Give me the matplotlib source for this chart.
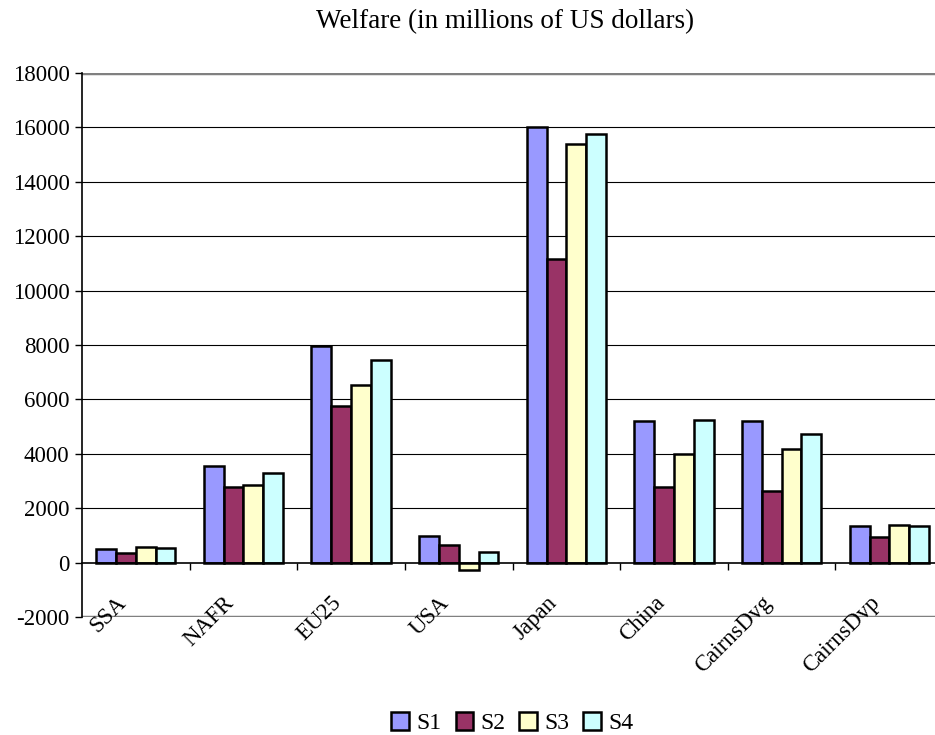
import numpy as np
import matplotlib
matplotlib.use('Agg')
import matplotlib.pyplot as plt

# Data
regions = ['SSA', 'NAFR', 'EU25', 'USA', 'Japan', 'China', 'CairnsDvg', 'CairnsDvp']
s1 = [500, 3550, 7980, 980, 16020, 5190, 5190, 1350]
s2 = [350, 2790, 5760, 650, 11180, 2790, 2640, 950]
s3 = [560, 2850, 6520, -270, 15380, 3980, 4170, 1380]
s4 = [540, 3290, 7450, 390, 15770, 5260, 4730, 1350]
series_names = ['S1', 'S2', 'S3', 'S4']
colors = ['#9999FF', '#993366', '#FFFFCC', '#CCFFFF']

plt.rcParams['font.family'] = ['Liberation Serif', 'DejaVu Serif']
plt.rcParams['axes.unicode_minus'] = False

fig = plt.figure(figsize=(9.35, 7.35), dpi=100)
ax = fig.add_axes([0.0877, 0.1605, 0.921, 0.7402])

x = np.arange(len(regions))
width = 0.184
for k, vals in enumerate([s1, s2, s3, s4]):
    ax.bar(x + (k - 1.5) * width, vals, width, color=colors[k],
           edgecolor='black', linewidth=1.8, label=series_names[k], zorder=3)

ax.set_xlim(-0.5, len(regions) - 0.5)
ax.set_ylim(-2000, 18000)
ax.set_yticks(np.arange(-2000, 18001, 2000))
ax.tick_params(axis='y', labelsize=16.5, length=5, width=1, direction='out', pad=4)

# grid lines and plot-area border
for yv in range(2000, 18000, 2000):
    ax.axhline(yv, color='black', linewidth=0.8, zorder=1)
ax.axhline(18000, color='#808080', linewidth=2.5, zorder=1)
ax.axhline(-2000, color='#808080', linewidth=2.5, zorder=1)

for side in ['top', 'right']:
    ax.spines[side].set_visible(False)
ax.spines['left'].set_linewidth(1.2)
ax.spines['bottom'].set_position(('data', 0))
ax.spines['bottom'].set_linewidth(1.2)
ax.spines['bottom'].set_zorder(4)

# category boundary ticks on the zero axis
ax.set_xticks(np.arange(len(regions)) + 0.5)
ax.set_xticklabels([])
ax.tick_params(axis='x', length=5, width=1, direction='out')

for i, name in enumerate(regions):
    ax.text(i - 0.05, -1080, name, rotation=45, ha='right', va='top', fontsize=16.5)

fig.text(0.540, 0.970, 'Welfare (in millions of US dollars)', ha='center', va='center', fontsize=19.5)

fig.legend(loc='center', bbox_to_anchor=(0.548, 0.016), ncol=4, frameon=False,
           fontsize=17, handlelength=0.75, handleheight=0.75, handletextpad=0.3,
           columnspacing=0.6, borderpad=0)

fig.savefig('out.png', dpi=100)
